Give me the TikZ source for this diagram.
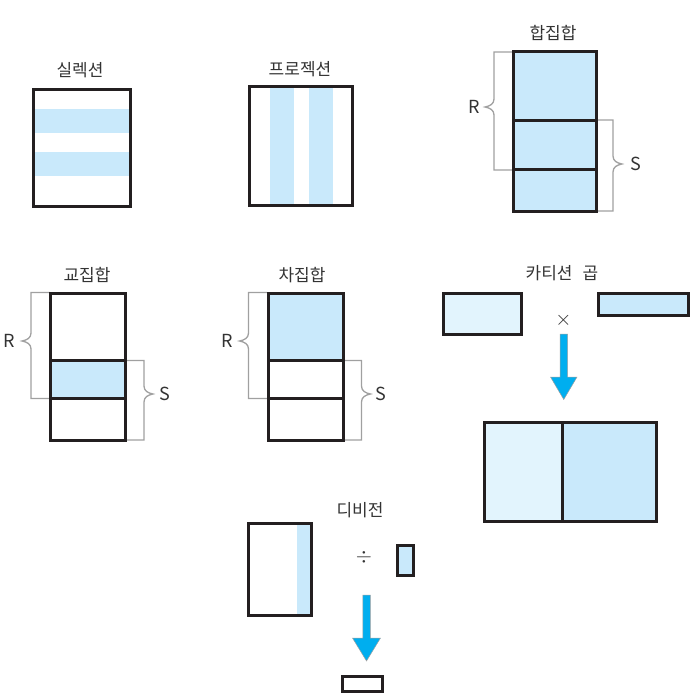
\documentclass[tikz,border=0pt]{standalone}
\usepackage{fontspec}
\setmainfont{Noto Sans CJK KR}
\definecolor{bordc}{HTML}{231F20}
\definecolor{blu}{HTML}{C9E9FB}
\definecolor{lblu}{HTML}{E2F4FD}
\definecolor{cyanc}{HTML}{00AEEF}
\definecolor{txtc}{HTML}{333333}
\definecolor{brkc}{HTML}{A0A0A0}
\newcommand\lbrk[5]{\draw[brk] (#4,#2) -- (#1,#2) -- (#1,{#5-8}) .. controls (#1,{#5-3}) and ({#1-4},{#5-1}) .. ({#1-9},#5) .. controls ({#1-4},{#5+1}) and (#1,{#5+3}) .. (#1,{#5+8}) -- (#1,#3) -- (#4,#3);}
\newcommand\rbrk[5]{\draw[brk] (#4,#2) -- (#1,#2) -- (#1,{#5-8}) .. controls (#1,{#5-3}) and ({#1+4},{#5-1}) .. ({#1+9},#5) .. controls ({#1+4},{#5+1}) and (#1,{#5+3}) .. (#1,{#5+8}) -- (#1,#3) -- (#4,#3);}
\begin{document}
\begin{tikzpicture}[x=1pt,y=-1pt,
 box/.style={draw=bordc,line width=3pt},
 bl/.style={fill=blu},
 lbl/.style={fill=lblu},
 title/.style={font=\fontsize{17}{20}\selectfont,text=txtc,inner sep=0pt},
 rs/.style={font=\fontsize{18}{21}\selectfont,text=txtc,inner sep=0pt},
 op/.style={font=\fontsize{22}{24}\selectfont,text=txtc,inner sep=0pt},
 brk/.style={draw=brkc,line width=1.3pt},
 bigarrow/.style={fill=cyanc,draw=brkc,line width=0.5pt}]
\useasboundingbox (0,0) rectangle (696,693);

% Selection
\node[title] (tsel) at (80,70) {실렉션};
\fill[bl] (33,109) rectangle (130,133);
\fill[bl] (33,152) rectangle (130,176);
\draw[box] (33,89) rectangle (130,206);

% Projection
\node[title] (tproj) at (300,69) {프로젝션};
\fill[bl] (270,86) rectangle (294,205);
\fill[bl] (309,86) rectangle (333,205);
\draw[box] (249,86) rectangle (352,205);

% Union
\node[title] (tuni) at (553,33) {합집합};
\lbrk{494}{52}{170}{512}{107}
\rbrk{613}{120}{211}{597}{164}
\fill[bl] (513,52) rectangle (596,211);
\draw[box] (513,52) rectangle (596,211);
\draw[box] (513,120) -- (596,120);
\draw[box] (513,169.5) -- (596,169.5);
\node[rs] (runi) at (474,107) {R};
\node[rs] (suni) at (636,164) {S};

% Intersection
\node[title] (tint) at (87,275) {교집합};
\lbrk{31}{292.5}{398.5}{50}{341}
\rbrk{144}{360.5}{440}{126}{394}
\fill[bl] (50.5,360.5) rectangle (125.5,398);
\draw[box] (50.5,293) rectangle (125.5,440);
\draw[box] (50.5,360.5) -- (125.5,360.5);
\draw[box] (50.5,398) -- (125.5,398);
\node[rs] (rint) at (9,341) {R};
\node[rs] (sint) at (165,394) {S};

% Difference
\node[title] (tdif) at (302,275) {차집합};
\lbrk{248.5}{292.5}{398.5}{267}{341}
\rbrk{361.5}{360.5}{440}{343}{394}
\fill[bl] (268,293) rectangle (343,360);
\draw[box] (268,293) rectangle (343,440);
\draw[box] (268,360) -- (343,360);
\draw[box] (268,398) -- (343,398);
\node[rs] (rdif) at (227,341) {R};
\node[rs] (sdif) at (381,394) {S};

% Cartesian product
\node[title] (tcart) at (562,273) {카티션\hspace{0.6em}곱};
\draw[box,lbl] (443,293.5) rectangle (521,334);
\draw[box,bl] (598,293.5) rectangle (688,315);
\node[op] (times) at (563.5,320) {$\times$};
\draw[bigarrow] (560,334) -- (567.5,334) -- (567.5,377) -- (577,377) -- (563.75,399.5) -- (550.5,377) -- (560,377) -- cycle;
\fill[lblu] (484,422) rectangle (562,521.5);
\fill[blu] (562,422) rectangle (656.5,521.5);
\draw[box] (484,422) rectangle (656.5,521.5);
\draw[box] (562,422) -- (562,521.5);

% Division
\node[title] (tdiv) at (360,510) {디비전};
\fill[bl] (297,523) rectangle (311.5,615);
\draw[box] (248,523) rectangle (311.5,615);
\node[op] (divs) at (364,557) {$\div$};
\draw[box,bl] (397.5,545.5) rectangle (413,575.5);
\draw[bigarrow] (362.75,595) -- (370.25,595) -- (370.25,638) -- (380.5,638) -- (366.5,661) -- (352.5,638) -- (362.75,638) -- cycle;
\draw[box] (342,676) rectangle (382.5,691);
\end{tikzpicture}
\end{document}
